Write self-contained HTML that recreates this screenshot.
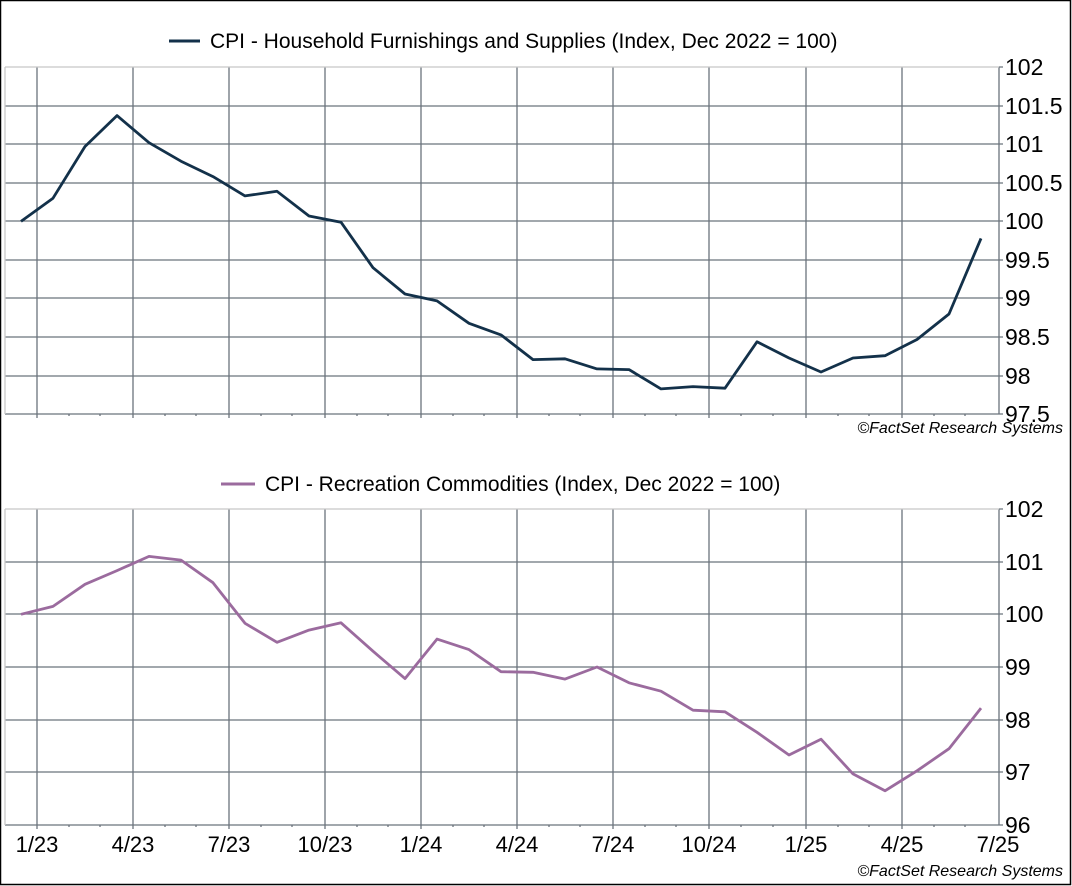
<!DOCTYPE html>
<html><head><meta charset="utf-8"><style>
html,body{margin:0;padding:0;background:#fff}
svg{display:block}
text{font-family:"Liberation Sans",Arial,sans-serif;fill:#000}
</style></head><body>
<svg width="1072" height="886" viewBox="0 0 1072 886" xmlns="http://www.w3.org/2000/svg">
<rect x="0.5" y="0.5" width="1070" height="884" fill="#fff" stroke="#000" stroke-width="1.5"/>
<!-- TOP PANEL -->
<g stroke="#6b737c" stroke-width="1.3" fill="none">
<path d="M37 67V414M133 67V414M229 67V414M325 67V414M421 67V414M517 67V414M613 67V414M709 67V414M806 67V414M902 67V414"/>
<path d="M5 106H999M5 144H999M5 183H999M5 221H999M5 260H999M5 298H999M5 337H999M5 376H999"/>
<path d="M5 414H999M999 67V414"/>
<path d="M999 67H1003M999 106H1003M999 144H1003M999 183H1003M999 221H1003M999 260H1003M999 298H1003M999 337H1003M999 376H1003M999 414H1003"/>
<path d="M37 414v4M69 414v2M100 414v2M133 414v4M165 414v2M196 414v2M229 414v4M261 414v2M292 414v2M325 414v4M357 414v2M388 414v2M421 414v4M453 414v2M484 414v2M517 414v4M549 414v2M580 414v2M613 414v4M645 414v2M676 414v2M709 414v4M741 414v2M773 414v2M806 414v4M838 414v2M869 414v2M902 414v4M934 414v2M965 414v2"/>
</g>
<path d="M5 67H999M5 67V414" stroke="#c8c8c8" stroke-width="1.3" fill="none"/>
<polyline fill="none" stroke="#13314a" stroke-width="2.8" stroke-linejoin="round" points="21,221.4 53,198.2 85,146.5 117,115.6 149,142.7 181,161.2 213,176.6 245,195.9 277,191.3 309,216 341,222.2 373,267.7 405,294 437,300.9 469,323.3 501,334.9 533,359.6 565,358.8 597,368.9 629,369.6 661,388.9 693,386.6 725,388.2 757,341.8 789,358 821,372 853,358 885,355.7 917,339.5 949,314 981,238.4"/>
<g font-size="23">
<text x="1005" y="75">102</text><text x="1005" y="114">101.5</text><text x="1005" y="152">101</text><text x="1005" y="191">100.5</text><text x="1005" y="229">100</text><text x="1005" y="268">99.5</text><text x="1005" y="306">99</text><text x="1005" y="345">98.5</text><text x="1005" y="384">98</text><text x="1005" y="422">97.5</text>
</g>
<line x1="169" y1="41" x2="200" y2="41" stroke="#13314a" stroke-width="3"/>
<text x="210" y="48" font-size="21">CPI - Household Furnishings and Supplies (Index, Dec 2022 = 100)</text>
<text x="1063" y="433" font-size="16" font-style="italic" text-anchor="end">©FactSet Research Systems</text>
<!-- BOTTOM PANEL -->
<g stroke="#6b737c" stroke-width="1.3" fill="none">
<path d="M37 509V825M133 509V825M229 509V825M325 509V825M421 509V825M517 509V825M613 509V825M709 509V825M806 509V825M902 509V825"/>
<path d="M5 562H999M5 614H999M5 667H999M5 720H999M5 772H999"/>
<path d="M5 825H999M999 509V825"/>
<path d="M999 509H1003M999 562H1003M999 614H1003M999 667H1003M999 720H1003M999 772H1003M999 825H1003"/>
<path d="M37 825v4M69 825v2M100 825v2M133 825v4M165 825v2M196 825v2M229 825v4M261 825v2M292 825v2M325 825v4M357 825v2M388 825v2M421 825v4M453 825v2M484 825v2M517 825v4M549 825v2M580 825v2M613 825v4M645 825v2M676 825v2M709 825v4M741 825v2M773 825v2M806 825v4M838 825v2M869 825v2M902 825v4M934 825v2M965 825v2"/>
</g>
<path d="M5 509H999M5 509V825" stroke="#c8c8c8" stroke-width="1.3" fill="none"/>
<polyline fill="none" stroke="#9b6b9e" stroke-width="2.8" stroke-linejoin="round" points="21,614.3 53,606.4 85,584.3 117,570.6 149,556.4 181,560.1 213,582.7 245,623.3 277,642.3 309,630.1 341,622.8 373,651.2 405,678.6 437,639.1 469,649.6 501,671.7 533,672.3 565,679.1 597,667 629,682.8 661,691.2 693,710.2 725,711.8 757,732.3 789,755 821,739.2 853,773.9 885,790.8 917,770.8 949,748.7 981,708.1"/>
<g font-size="23">
<text x="1005" y="517">102</text><text x="1005" y="570">101</text><text x="1005" y="622">100</text><text x="1005" y="675">99</text><text x="1005" y="728">98</text><text x="1005" y="780">97</text><text x="1005" y="833">96</text>
</g>
<g font-size="22" text-anchor="middle">
<text x="37" y="852">1/23</text><text x="133" y="852">4/23</text><text x="229" y="852">7/23</text><text x="325" y="852">10/23</text><text x="421" y="852">1/24</text><text x="517" y="852">4/24</text><text x="613" y="852">7/24</text><text x="709" y="852">10/24</text><text x="806" y="852">1/25</text><text x="902" y="852">4/25</text><text x="998" y="852">7/25</text>
</g>
<line x1="221" y1="484" x2="255" y2="484" stroke="#9b6b9e" stroke-width="3"/>
<text x="265" y="491" font-size="21">CPI - Recreation Commodities (Index, Dec 2022 = 100)</text>
<text x="1063" y="876" font-size="16" font-style="italic" text-anchor="end">©FactSet Research Systems</text>
</svg>
</body></html>
